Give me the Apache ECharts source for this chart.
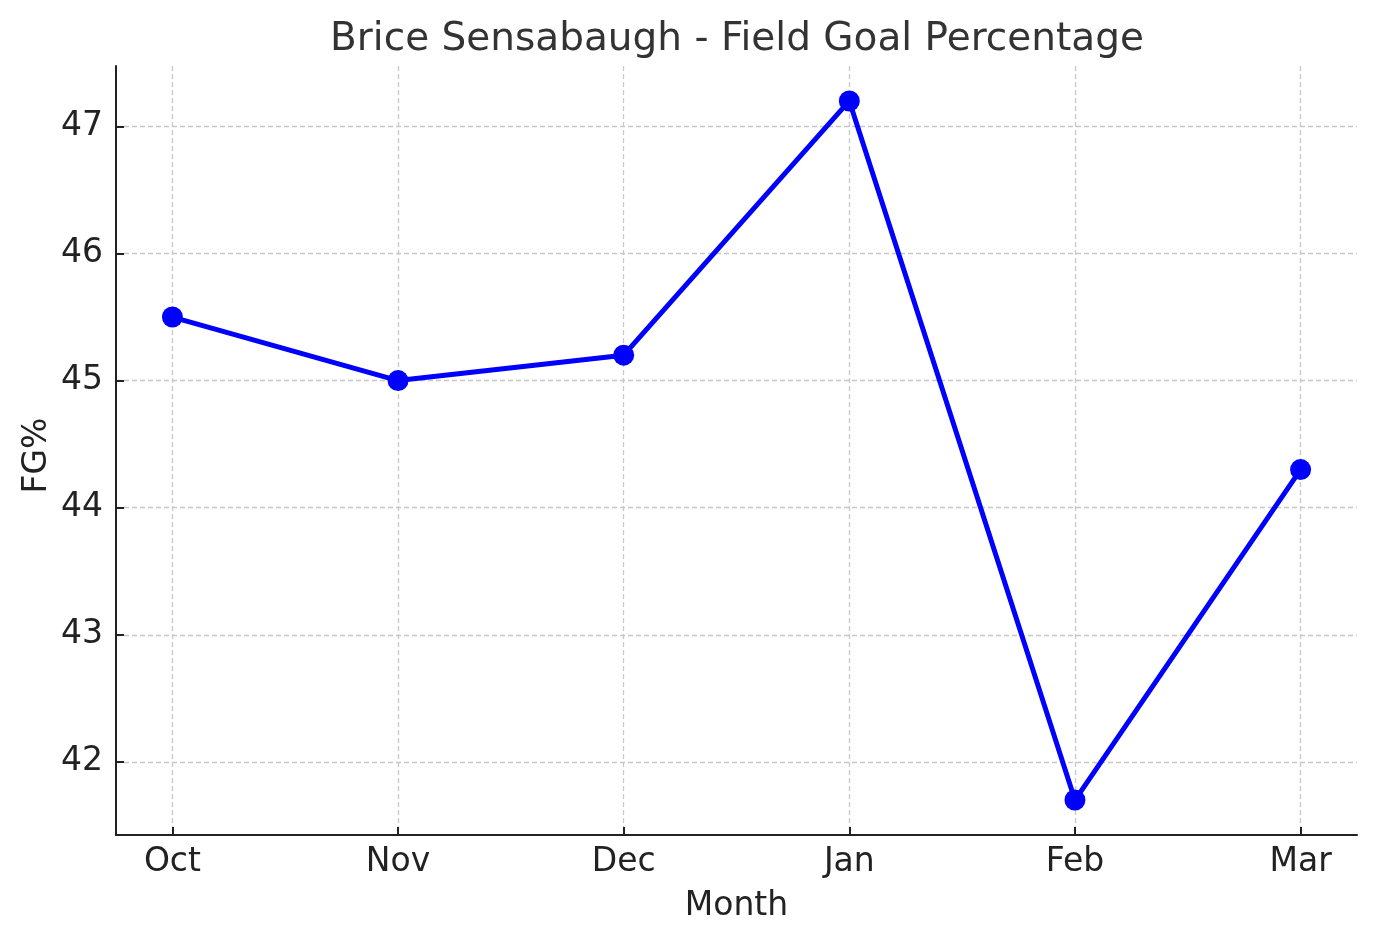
<!DOCTYPE html>
<html>
<head>
<meta charset="utf-8">
<script src="https://cdn.jsdelivr.net/npm/echarts@6/dist/echarts.min.js"></script>
<style>
html,body{margin:0;padding:0;background:#fff;}
#chart{width:1376px;height:943px;}
</style>
</head>
<body>
<div id="chart"></div>
<script>
const months = ['Oct', 'Nov', 'Dec', 'Jan', 'Feb', 'Mar'];
const fgPct = [45.5, 45.0, 45.2, 47.2, 41.7, 44.3];
const yTicks = [42, 43, 44, 45, 46, 47];
const xTicks = [0, 1, 2, 3, 4, 5];

const FONT = 'DejaVu Sans';
const chart = echarts.init(document.getElementById('chart'), null, {renderer: 'canvas'});
const gridLine = {show: true, lineStyle: {color: '#c8c8c8', width: 1.3, type: [5, 3]}};
chart.setOption({
  animation: false,
  backgroundColor: '#ffffff',
  title: {
    text: 'Brice Sensabaugh - Field Goal Percentage',
    left: 732, textAlign: 'center', top: 15,
    textStyle: {fontFamily: FONT, fontSize: 39, fontWeight: 'normal', color: '#333333'}
  },
  grid: {left: 116, right: 19, top: 66, bottom: 108, containLabel: false},
  xAxis: {
    type: 'value', min: -0.25, max: 5.25,
    name: 'Month', nameLocation: 'middle', nameGap: 55,
    nameTextStyle: {fontFamily: FONT, fontSize: 33, color: '#222222'},
    axisLine: {show: true, onZero: false, lineStyle: {color: '#222222', width: 2}},
    axisTick: {show: true, inside: true, length: 8, customValues: xTicks, lineStyle: {color: '#222222', width: 2}},
    axisLabel: {customValues: xTicks, margin: 11, fontFamily: FONT, fontSize: 33, color: '#222222',
      formatter: v => months[Math.round(v)] || ''},
    splitLine: gridLine
  },
  yAxis: {
    type: 'value', min: 41.425, max: 47.475,
    name: 'FG%', nameLocation: 'middle', nameGap: 62, nameRotate: 90, nameMoveOverlap: false,
    nameTextStyle: {fontFamily: FONT, fontSize: 33, color: '#222222', padding: [0, 10, 0, 0]},
    axisLine: {show: true, onZero: false, lineStyle: {color: '#222222', width: 2}},
    axisTick: {show: true, inside: true, length: 8, customValues: yTicks, lineStyle: {color: '#222222', width: 2}},
    axisLabel: {customValues: yTicks, margin: 13, fontFamily: FONT, fontSize: 33, color: '#222222',
      formatter: v => String(Math.round(v))},
    splitLine: gridLine
  },
  series: [{
    type: 'line',
    data: fgPct.map((v, i) => [i, v]),
    symbol: 'circle', symbolSize: 21,
    lineStyle: {color: '#0000ff', width: 5},
    itemStyle: {color: '#0000ff'},
    z: 5
  }]
});
</script>
</body>
</html>
